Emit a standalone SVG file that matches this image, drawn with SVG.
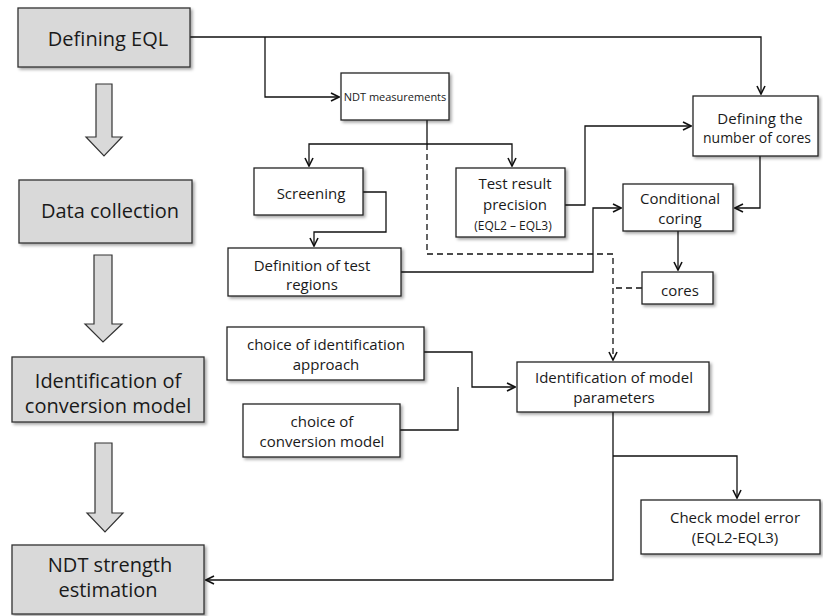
<svg xmlns="http://www.w3.org/2000/svg" width="823" height="616" viewBox="0 0 823 616">
<defs>
<filter id="sh" x="-10%" y="-10%" width="130%" height="140%">
<feDropShadow dx="2" dy="2" stdDeviation="1.5" flood-color="#000" flood-opacity="0.35"/>
</filter>
<marker id="ah" viewBox="0 0 10 10" refX="9" refY="5" markerWidth="10" markerHeight="10" markerUnits="userSpaceOnUse" orient="auto">
<path d="M1,1 L9,5 L1,9" fill="none" stroke="#111" stroke-width="1.6"/>
</marker>
</defs>
<style>
.gb{fill:#d9d9d9;stroke:#333;stroke-width:1.3;filter:url(#sh)}
.wb{fill:#fff;stroke:#222;stroke-width:1.3;filter:url(#sh)}
.ba{fill:#d9d9d9;stroke:#333;stroke-width:1.2}
.lt{font-family:"Open Sans","Liberation Sans",sans-serif;font-size:20px;fill:#1a1a1a;text-anchor:middle}
.rt{font-family:"Open Sans","Liberation Sans",sans-serif;font-size:15px;fill:#1a1a1a;text-anchor:middle}
.st{font-family:"Open Sans","Liberation Sans",sans-serif;font-size:12px;fill:#1a1a1a;text-anchor:middle}
.c{fill:none;stroke:#111;stroke-width:1.3}
.d{fill:none;stroke:#111;stroke-width:1.3;stroke-dasharray:6 4}
</style>

<g id="connectors">
<path class="c" d="M190,37 H761 V94" marker-end="url(#ah)"/>
<path class="c" d="M265,37 V97 H339" marker-end="url(#ah)"/>
<path class="c" d="M427,120 V144 H309 V166" marker-end="url(#ah)"/>
<path class="c" d="M427,144 H512 V166" marker-end="url(#ah)"/>
<path class="d" d="M427,144 V254 H613 V360" marker-end="url(#ah)"/>
<path class="d" d="M642,288 H613"/>
<path class="c" d="M363,192 H386 V232 H314 V246" marker-end="url(#ah)"/>
<path class="c" d="M401,272 H593 V208 H621" marker-end="url(#ah)"/>
<path class="c" d="M565,205 H585 V126 H691" marker-end="url(#ah)"/>
<path class="c" d="M760,156 V208 H735" marker-end="url(#ah)"/>
<path class="c" d="M678,231 V270" marker-end="url(#ah)"/>
<path class="c" d="M424,352 H472 V387 H515" marker-end="url(#ah)"/>
<path class="c" d="M400,430 H458 V387"/>
<path class="c" d="M613,412 V580 H206" marker-end="url(#ah)"/>
<path class="c" d="M613,456 H737 V498" marker-end="url(#ah)"/>
</g>

<g id="flow-arrows">
<path class="ba" d="M96,84 H112 V137 H122 L104,156 L86,137 H96 Z"/>
<path class="ba" d="M94,255 H112 V324 H122 L103,342 L85,324 H94 Z"/>
<path class="ba" d="M95,443 H112 V513 H123 L105,532 L87,513 H95 Z"/>
</g>

<g id="defining-eql">
<rect class="gb" x="18" y="8" width="172" height="59"/>
<text class="lt" x="108" y="46">Defining EQL</text>
</g>
<g id="data-collection">
<rect class="gb" x="19" y="180" width="173" height="63"/>
<text class="lt" x="110" y="218">Data collection</text>
</g>
<g id="identification-conversion-model">
<rect class="gb" x="12" y="357" width="192" height="65"/>
<text class="lt" x="108" y="388">Identification of</text>
<text class="lt" x="108" y="413">conversion model</text>
</g>
<g id="ndt-strength-estimation">
<rect class="gb" x="12" y="545" width="192" height="69"/>
<text class="lt" x="110" y="572">NDT strength</text>
<text class="lt" x="108" y="597">estimation</text>
</g>

<g id="ndt-measurements">
<rect class="wb" x="341" y="73" width="108" height="47"/>
<text class="rt" x="395" y="101" style="font-size:11px">NDT measurements</text>
</g>
<g id="defining-number-cores">
<rect class="wb" x="693" y="96" width="125" height="60"/>
<text class="rt" x="760" y="124">Defining the</text>
<text class="rt" x="757" y="143" style="font-size:14px">number of cores</text>
</g>
<g id="screening">
<rect class="wb" x="254" y="168" width="109" height="47"/>
<text class="rt" x="311" y="199">Screening</text>
</g>
<g id="test-result-precision">
<rect class="wb" x="456" y="168" width="109" height="69"/>
<text class="rt" x="515" y="189">Test result</text>
<text class="rt" x="515" y="210">precision</text>
<text class="st" x="513" y="230">(EQL2 – EQL3)</text>
</g>
<g id="definition-test-regions">
<rect class="wb" x="228" y="248" width="173" height="48"/>
<text class="rt" x="312" y="271">Definition of test</text>
<text class="rt" x="312" y="290">regions</text>
</g>
<g id="conditional-coring">
<rect class="wb" x="623" y="184" width="110" height="47"/>
<text class="rt" x="680" y="204">Conditional</text>
<text class="rt" x="680" y="224">coring</text>
</g>
<g id="cores">
<rect class="wb" x="642" y="272" width="71" height="32"/>
<text class="rt" x="680" y="296">cores</text>
</g>
<g id="choice-identification-approach">
<rect class="wb" x="227" y="327" width="197" height="53"/>
<text class="rt" x="326" y="350">choice of identification</text>
<text class="rt" x="326" y="370">approach</text>
</g>
<g id="choice-conversion-model">
<rect class="wb" x="243" y="404" width="157" height="53"/>
<text class="rt" x="322" y="427">choice of</text>
<text class="rt" x="322" y="447">conversion model</text>
</g>
<g id="identification-model-parameters">
<rect class="wb" x="517" y="362" width="192" height="50"/>
<text class="rt" x="614" y="383">Identification of model</text>
<text class="rt" x="614" y="403">parameters</text>
</g>
<g id="check-model-error">
<rect class="wb" x="641" y="500" width="179" height="54"/>
<text class="rt" x="735" y="523">Check model error</text>
<text class="rt" x="735" y="543">(EQL2-EQL3)</text>
</g>
</svg>
